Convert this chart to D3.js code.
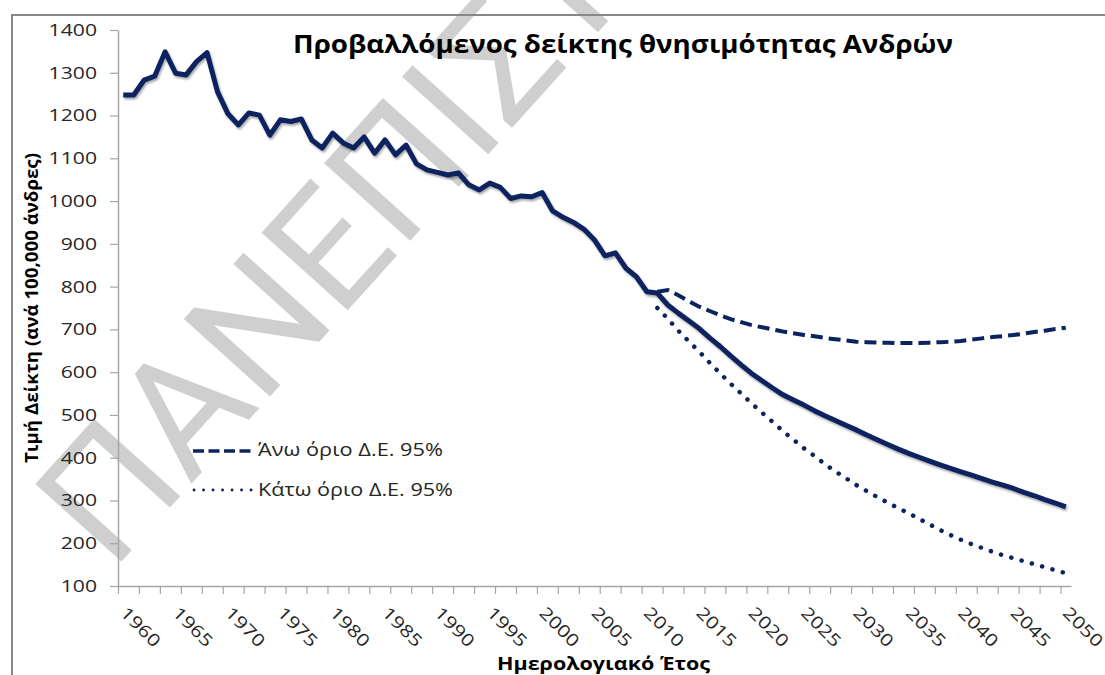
<!DOCTYPE html>
<html>
<head>
<meta charset="utf-8">
<script src="https://cdn.jsdelivr.net/npm/d3@7/dist/d3.min.js"></script>
<style>
  body { margin: 0; background: #fff; }
  svg { display: block; }
</style>
</head>
<body>
<svg id="chart"></svg>
<script>
// categories: calendar years 1960..2050
const years = d3.range(1960, 2051);

// central estimate (observed to 2010, projected after)
const rateMain = [
  1248, 1248, 1283, 1292, 1349, 1299, 1295, 1326, 1347, 1256,
  1204, 1178, 1206, 1201, 1154, 1190, 1186, 1192, 1143, 1124,
  1159, 1136, 1124, 1150, 1112, 1143, 1108, 1131, 1087, 1073,
  1067, 1061, 1066, 1038, 1026, 1042, 1032, 1006, 1012, 1010,
  1020, 977, 962, 950, 934, 909, 872, 879, 843, 823,
  788, 785, 757, 738, 720, 702, 680, 660, 638, 617,
  597, 580, 563, 547, 535, 523, 510, 498, 487, 476,
  465, 453, 442, 431, 420, 410, 401, 392, 383, 375,
  367, 359, 351, 343, 336, 328, 319, 311, 302, 294,
  285
];

// 95% interval bounds, from 2011
const ciStart = 2011;
const rateUpper = [
  788, 792, 780, 766, 753, 743, 733, 724, 717, 710,
  705, 700, 695, 691, 687, 684, 680, 677, 674, 671,
  670, 669, 669, 668, 668, 668, 669, 670, 671, 673,
  676, 679, 682, 684, 687, 690, 694, 697, 701, 704
];
const rateLower = [
  750, 725, 697, 672, 648, 622, 597, 573, 550, 527,
  505, 484, 462, 442, 422, 404, 385, 368, 352, 336,
  322, 308, 295, 282, 270, 257, 244, 231, 219, 208,
  198, 189, 180, 172, 165, 158, 151, 144, 137, 130
];

const yTicks = [100, 200, 300, 400, 500, 600, 700, 800, 900, 1000, 1100, 1200, 1300, 1400];
const xLabelYears = years.filter(y => y % 5 === 0);

const titleText = "Προβαλλόμενος δείκτης θνησιμότητας Ανδρών";
const yTitleText = "Τιμή Δείκτη (ανά 100,000 άνδρες)";
const xTitleText = "Ημερολογιακό Έτος";
const legendLabels = ["Άνω όριο Δ.Ε. 95%", "Κάτω όριο Δ.Ε. 95%"];
const watermarkText = "ΠΑΝΕΠΙΣΤΗΜΙΟ";

const width = 1105;
const height = 675;
const navy = "#0c245e";
const font = "'Open Sans', 'Noto Sans', sans-serif";

const svg = d3.select("#chart").attr("width", width).attr("height", height);

const defs = svg.append("defs");
const shadow = defs.append("filter").attr("id", "shadow")
  .attr("x", "-5%").attr("y", "-5%").attr("width", "110%").attr("height", "110%");
shadow.append("feDropShadow")
  .attr("dx", 1.2).attr("dy", 2).attr("stdDeviation", 0.8)
  .attr("flood-color", "#000").attr("flood-opacity", 0.35);

// watermark sits behind everything
svg.append("text")
  .attr("transform", "translate(112,572) rotate(-48)")
  .attr("font-family", "Roboto, 'Open Sans', sans-serif")
  .attr("font-size", 163)
  .attr("fill", "#cfcfcf")
  .text(watermarkText);

// outer chart frame (top and left edge)
svg.append("path")
  .attr("d", "M12,675V15H1105")
  .attr("fill", "none")
  .attr("stroke", "#878787")
  .attr("stroke-width", 2);

const x = d3.scaleBand().domain(years).range([118, 1071]).padding(0);
const xEdge = d3.scaleLinear().domain([0, years.length]).range([118, 1071]);
const y = d3.scaleLinear().domain([100, 1400]).range([586, 30]);
const cx = yr => x(yr) + x.bandwidth() / 2;

// y axis
const yAxisG = svg.append("g")
  .attr("transform", "translate(118,0)")
  .call(d3.axisLeft(y).tickValues(yTicks).tickFormat(d3.format("d"))
    .tickSize(8).tickSizeOuter(0).tickPadding(13));
yAxisG.selectAll("text")
  .attr("font-family", font).attr("font-size", 17).attr("fill", "#262626")
  .attr("textLength", d => String(d).length * 12.1)
  .attr("lengthAdjust", "spacingAndGlyphs");

// x axis: tick every two categories, label every five years
const edgeTicks = d3.range(0, years.length, 2);
const xAxisG = svg.append("g")
  .attr("transform", "translate(0,586)")
  .call(d3.axisBottom(xEdge).tickValues(edgeTicks).tickFormat("").tickSize(8).tickSizeOuter(0));

[yAxisG, xAxisG].forEach(g => {
  g.select(".domain").attr("stroke", "#a6a6a6").attr("stroke-width", 1.5);
  g.selectAll(".tick line").attr("stroke", "#a6a6a6").attr("stroke-width", 1.2);
});

svg.append("g").selectAll("text")
  .data(xLabelYears)
  .join("text")
  .attr("transform", d => `translate(${cx(d) - 4},614) rotate(45)`)
  .attr("font-family", font).attr("font-size", 17).attr("fill", "#262626")
  .attr("textLength", d => String(d).length * 12.1)
  .attr("lengthAdjust", "spacingAndGlyphs")
  .text(d => d);

// lines
const line = d3.line().x(d => cx(d.year)).y(d => y(d.value));
const mainData = years.map((yr, i) => ({ year: yr, value: rateMain[i] }));
const upperData = rateUpper.map((v, i) => ({ year: ciStart + i, value: v }));
const lowerData = rateLower.map((v, i) => ({ year: ciStart + i, value: v }));

svg.append("path")
  .datum(upperData)
  .attr("d", line)
  .attr("fill", "none")
  .attr("stroke", navy)
  .attr("stroke-width", 4)
  .attr("stroke-dasharray", "12,6");

svg.append("path")
  .datum(lowerData)
  .attr("d", line)
  .attr("fill", "none")
  .attr("stroke", navy)
  .attr("stroke-width", 4.5)
  .attr("stroke-linecap", "round")
  .attr("stroke-dasharray", "0.1,10.6");

svg.append("path")
  .datum(mainData)
  .attr("d", line)
  .attr("fill", "none")
  .attr("stroke", navy)
  .attr("stroke-width", 5)
  .attr("stroke-linejoin", "round")
  .attr("filter", "url(#shadow)");

// legend
const legend = svg.append("g");
legend.append("line")
  .attr("x1", 193).attr("x2", 255).attr("y1", 451).attr("y2", 451)
  .attr("stroke", navy).attr("stroke-width", 3.5).attr("stroke-dasharray", "11,4.5");
legend.append("line")
  .attr("x1", 194).attr("x2", 252).attr("y1", 490).attr("y2", 490)
  .attr("stroke", navy).attr("stroke-width", 2.8)
  .attr("stroke-linecap", "round").attr("stroke-dasharray", "0.1,9.4");
legend.selectAll("text")
  .data(legendLabels)
  .join("text")
  .attr("x", 258)
  .attr("y", (d, i) => 456 + i * 40)
  .attr("font-family", font).attr("font-size", 17.5).attr("fill", "#262626")
  .attr("textLength", (d, i) => [185, 195][i])
  .attr("lengthAdjust", "spacingAndGlyphs")
  .text(d => d);

// titles
svg.append("text")
  .attr("x", 623).attr("y", 53)
  .attr("text-anchor", "middle")
  .attr("font-family", font).attr("font-size", 25).attr("font-weight", "bold").attr("fill", "#000")
  .attr("textLength", 660).attr("lengthAdjust", "spacingAndGlyphs")
  .text(titleText);

svg.append("text")
  .attr("transform", "translate(38,308) rotate(-90)")
  .attr("text-anchor", "middle")
  .attr("font-family", font).attr("font-size", 17).attr("font-weight", "bold").attr("fill", "#000")
  .attr("textLength", 310).attr("lengthAdjust", "spacingAndGlyphs")
  .text(yTitleText);

svg.append("text")
  .attr("x", 497).attr("y", 670)
  .attr("font-family", font).attr("font-size", 17).attr("font-weight", "bold").attr("fill", "#000")
  .attr("textLength", 213).attr("lengthAdjust", "spacingAndGlyphs")
  .text(xTitleText);
</script>
</body>
</html>
